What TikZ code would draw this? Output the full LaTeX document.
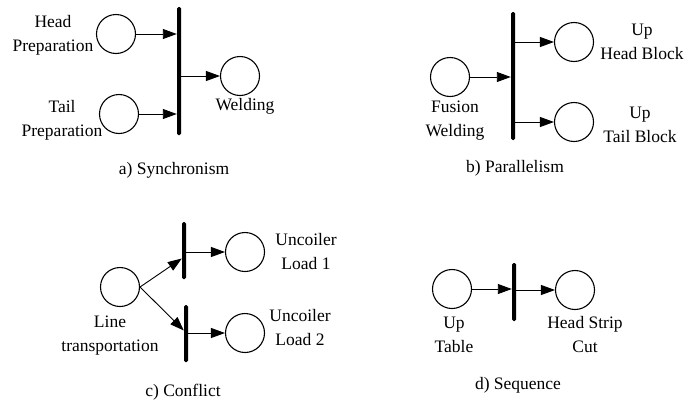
\documentclass[tikz,border=0pt]{standalone}
\usepackage{fontspec}
\setmainfont{Liberation Serif}
\usetikzlibrary{arrows.meta}

\begin{document}
\begin{tikzpicture}[x=1pt,y=-1pt,
  place/.style={circle,draw,line width=1.1pt,minimum size=39pt,inner sep=0pt},
  transbar/.style={rectangle,fill=black,minimum width=4pt,inner sep=0pt,rounded corners=1.5pt},
  arc/.style={line width=0.9pt,-{Triangle[length=14pt,width=10pt]}},
  lbl/.style={align=center,inner sep=0pt,font=\fontsize{17.5}{24}\selectfont}]
\useasboundingbox (0,0) rectangle (684,402);
% a) synchronism
\node[place] (P_a1) at (116,34) {};
\node[place] (P_a2) at (119,114) {};
\node[place] (P_a3) at (240,76) {};
\node[transbar,minimum height=128pt] (T_a) at (179,71) {};
\node[lbl] (L_a1) at (53,35) {Head\\Preparation};
\node[lbl] (L_a2) at (62,120) {Tail\\Preparation};
\node[lbl] (L_a3) at (245,106) {Welding};
\node[lbl] (C_a) at (174,170) {a) Synchronism};
\draw[arc] (P_a1) -- (P_a1 -| T_a.west);
\draw[arc] (P_a2) -- (P_a2 -| T_a.west);
\draw[arc] (T_a.east |- P_a3) -- (P_a3);
% b) parallelism
\node[place] (P_b1) at (450,77) {};
\node[place] (P_b2) at (574,42) {};
\node[place] (P_b3) at (574,122) {};
\node[transbar,minimum height=128pt] (T_b) at (513,76) {};
\node[lbl] (L_b1) at (455,121) {Fusion\\Welding};
\node[lbl] (L_b2) at (642,42) {Up\\Head Block};
\node[lbl] (L_b3) at (640,125) {Up\\Tail Block};
\node[lbl] (C_b) at (515,168) {b) Parallelism};
\draw[arc] (P_b1) -- (P_b1 -| T_b.west);
\draw[arc] (T_b.east |- P_b2) -- (P_b2);
\draw[arc] (T_b.east |- P_b3) -- (P_b3);
% c) conflict
\node[place] (P_c1) at (120,287) {};
\node[place] (P_c2) at (245,252) {};
\node[place] (P_c3) at (245,333) {};
\node[transbar,minimum height=57pt] (T_c1) at (184,250.5) {};
\node[transbar,minimum height=57pt] (T_c2) at (186,333.5) {};
\node[lbl] (L_c1) at (110,336) {Line\\transportation};
\node[lbl] (L_c2) at (306,252) {Uncoiler\\Load 1};
\node[lbl] (L_c3) at (300,328) {Uncoiler\\Load 2};
\node[lbl] (C_c) at (183,392) {c) Conflict};
\draw[arc] (P_c1.east) -- ([yshift=-8pt]T_c1.west);
\draw[arc] (P_c1.east) -- ([yshift=3pt]T_c2.west);
\draw[arc] (T_c1.east |- P_c2) -- (P_c2);
\draw[arc] (T_c2.east |- P_c3) -- (P_c3);
% d) sequence
\node[place] (P_d1) at (452,289) {};
\node[place] (P_d2) at (575,290) {};
\node[transbar,minimum height=58pt] (T_d) at (514,292) {};
\node[lbl] (L_d1) at (454,335) {Up\\Table};
\node[lbl] (L_d2) at (585,335) {Head Strip\\Cut};
\node[lbl] (C_d) at (518,385) {d) Sequence};
\draw[arc] (P_d1) -- (P_d1 -| T_d.west);
\draw[arc] (T_d.east |- P_d2) -- (P_d2);
\end{tikzpicture}
\end{document}
